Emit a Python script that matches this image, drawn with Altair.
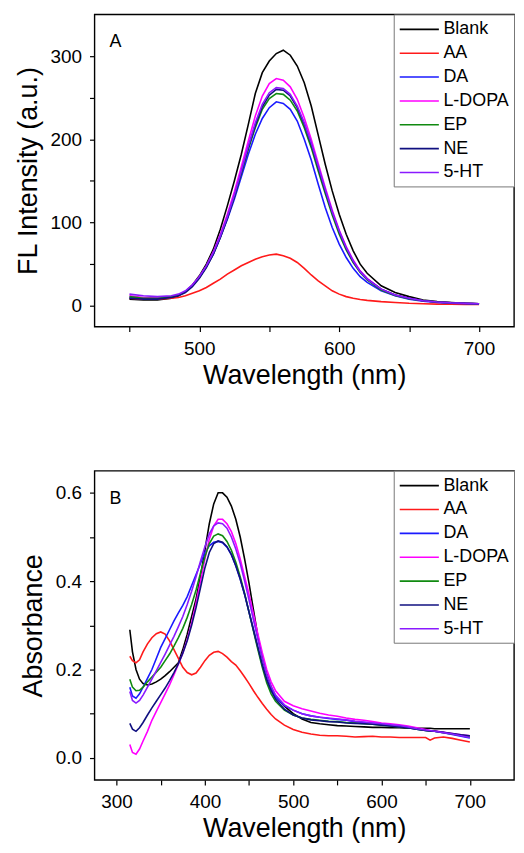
import altair as alt
import pandas as pd

SERIES = ["Blank", "AA", "DA", "L-DOPA", "EP", "NE", "5-HT"]
COLORS = ["#000000", "#ff1a1a", "#1a1aff", "#ff00ff", "#108a10", "#101080", "#8a1aff"]

# ---------------- Panel A : fluorescence ----------------
WL_A = [450, 460, 470, 480, 485, 490, 495, 500, 505, 510, 515, 520, 525, 530, 535,
        540, 545, 550, 555, 560, 565, 570, 575, 580, 585, 590, 595, 600, 605, 610,
        615, 620, 630, 640, 650, 660, 670, 680, 690, 700]
BLANK_A = [8, 7, 7, 9, 12, 17, 25, 36, 50, 68, 92, 120, 150, 182, 218,
           255, 280, 294, 303, 307, 301, 288, 268, 240, 205, 170, 138, 110, 86, 66,
           50, 39, 24, 16, 11, 7, 5, 4, 3, 2.5]
AA_A = [9, 8, 8, 9, 10, 12, 15, 18, 22, 27, 32, 38, 43, 48, 52,
        56, 59, 61, 62, 60, 57, 52, 45, 37, 30, 24, 18, 14, 11, 9,
        7.5, 6.5, 5, 4, 3, 2.5, 2, 1.8, 1.6, 1.5]
DA_A = [10, 9, 9, 11, 13, 17, 24, 34, 47, 62, 82, 104, 128, 155, 182,
        206, 225, 238, 245, 243, 236, 222, 200, 175, 146, 118, 94, 74, 58, 45,
        35, 28, 18, 12, 8, 5.5, 4, 3, 2.5, 2]
LDOPA_A = [12, 10, 10, 11, 13, 17, 25, 35, 48, 65, 86, 110, 137, 167, 198,
           228, 252, 267, 273, 271, 263, 248, 226, 200, 171, 142, 115, 91, 71, 55,
           42, 33, 20, 13, 9, 6, 4.5, 3.5, 3, 2.5]
EP_A = [11, 9, 9, 11, 13, 17, 24, 34, 47, 63, 83, 106, 131, 159, 188,
        214, 236, 249, 255, 254, 247, 234, 214, 190, 162, 135, 109, 86, 67, 52,
        40, 31, 19, 12.5, 8.5, 6, 4.5, 3.5, 3, 2.5]
NE_A = [9, 8, 8, 10, 12, 16, 23, 33, 46, 62, 82, 105, 131, 160, 190,
        217, 239, 253, 260, 259, 252, 238, 218, 194, 166, 138, 112, 89, 69, 53,
        41, 32, 20, 13, 9, 6, 4.5, 3.5, 3, 2.5]
HT_A = [14, 12, 11, 12, 14, 18, 25, 35, 48, 64, 84, 107, 133, 162, 192,
        220, 242, 256, 262, 261, 254, 240, 220, 196, 168, 140, 113, 90, 70, 54,
        41, 32, 20, 13, 9, 6, 4.5, 3.5, 3, 2.5]

# ---------------- Panel B : absorbance ----------------
WL_B = [315, 318, 322, 326, 330, 335, 340, 345, 350, 355, 360, 365, 370, 375, 380,
        385, 390, 395, 400, 405, 410, 415, 420, 425, 430, 435, 440, 445, 450, 455,
        460, 465, 470, 475, 480, 490, 500, 510, 520, 530, 540, 550, 560, 570, 580,
        590, 600, 610, 620, 630, 640, 650, 655, 660, 670, 680, 690, 700]
BLANK_B = [0.29, 0.24, 0.20, 0.178, 0.168, 0.165, 0.167, 0.172, 0.178, 0.186, 0.195, 0.205, 0.215, 0.245, 0.28,
           0.32, 0.36, 0.41, 0.47, 0.53, 0.575, 0.60, 0.60, 0.59, 0.57, 0.54, 0.50, 0.45, 0.395, 0.335,
           0.275, 0.225, 0.19, 0.16, 0.14, 0.117, 0.10, 0.088, 0.08, 0.077, 0.075, 0.073, 0.072, 0.071, 0.070,
           0.069, 0.069, 0.068, 0.068, 0.067, 0.067, 0.067, 0.067, 0.066, 0.066, 0.066, 0.066, 0.066]
AA_B = [0.23, 0.22, 0.215, 0.222, 0.24, 0.258, 0.272, 0.281, 0.285, 0.28, 0.265, 0.245, 0.225, 0.205, 0.193,
        0.188, 0.192, 0.205, 0.22, 0.232, 0.239, 0.241, 0.236, 0.228, 0.218, 0.21, 0.197, 0.183, 0.168, 0.152,
        0.137, 0.123, 0.11, 0.098, 0.088, 0.074, 0.064, 0.058, 0.054, 0.051, 0.05, 0.05, 0.049, 0.047, 0.048,
        0.049, 0.047, 0.047, 0.046, 0.046, 0.046, 0.046, 0.040, 0.045, 0.047, 0.044, 0.040, 0.036]
DA_B = [0.16, 0.14, 0.135, 0.145, 0.16, 0.18, 0.20, 0.225, 0.25, 0.27, 0.29, 0.31, 0.328, 0.345, 0.365,
        0.39, 0.415, 0.44, 0.465, 0.48, 0.488, 0.49, 0.487, 0.477, 0.46, 0.435, 0.405, 0.37, 0.33, 0.29,
        0.25, 0.21, 0.178, 0.155, 0.138, 0.118, 0.108, 0.10, 0.095, 0.092, 0.089, 0.087, 0.085, 0.082, 0.08,
        0.078, 0.076, 0.073, 0.071, 0.068, 0.065, 0.062, 0.061, 0.06, 0.057, 0.053, 0.049, 0.045]
LDOPA_B = [0.03, 0.012, 0.008, 0.02, 0.038, 0.06, 0.085, 0.105, 0.125, 0.145, 0.165, 0.188, 0.212, 0.237, 0.268,
           0.305, 0.35, 0.40, 0.45, 0.495, 0.525, 0.54, 0.54, 0.53, 0.512, 0.485, 0.45, 0.41, 0.37, 0.325,
           0.28, 0.238, 0.20, 0.172, 0.152, 0.128, 0.118, 0.111, 0.106, 0.101, 0.097, 0.094, 0.09, 0.087, 0.085,
           0.082, 0.079, 0.077, 0.075, 0.072, 0.068, 0.064, 0.062, 0.061, 0.058, 0.055, 0.052, 0.05]
EP_B = [0.178, 0.16, 0.152, 0.153, 0.16, 0.172, 0.183, 0.194, 0.205, 0.22, 0.235, 0.253, 0.272, 0.293, 0.318,
        0.347, 0.38, 0.418, 0.455, 0.485, 0.502, 0.507, 0.503, 0.49, 0.47, 0.443, 0.41, 0.372, 0.33, 0.287,
        0.245, 0.205, 0.17, 0.145, 0.128, 0.108, 0.097, 0.09, 0.087, 0.085, 0.083, 0.082, 0.08, 0.079, 0.077,
        0.076, 0.074, 0.072, 0.07, 0.068, 0.065, 0.062, 0.061, 0.06, 0.057, 0.054, 0.051, 0.048]
NE_B = [0.078, 0.065, 0.06, 0.068, 0.08, 0.097, 0.113, 0.128, 0.143, 0.158, 0.175, 0.193, 0.213, 0.237, 0.265,
        0.30, 0.34, 0.385, 0.43, 0.465, 0.485, 0.491, 0.488, 0.478, 0.46, 0.435, 0.405, 0.37, 0.33, 0.29,
        0.25, 0.21, 0.177, 0.152, 0.133, 0.11, 0.097, 0.09, 0.086, 0.084, 0.082, 0.081, 0.079, 0.078, 0.077,
        0.076, 0.074, 0.072, 0.07, 0.068, 0.065, 0.062, 0.061, 0.06, 0.058, 0.055, 0.052, 0.05]
HT_B = [0.15, 0.13, 0.124, 0.13, 0.142, 0.16, 0.178, 0.197, 0.216, 0.235, 0.255, 0.275, 0.297, 0.32, 0.347,
        0.377, 0.41, 0.445, 0.478, 0.507, 0.525, 0.532, 0.53, 0.52, 0.50, 0.473, 0.44, 0.40, 0.357, 0.312,
        0.268, 0.226, 0.19, 0.162, 0.142, 0.12, 0.108, 0.10, 0.095, 0.092, 0.09, 0.088, 0.086, 0.083, 0.081,
        0.079, 0.077, 0.075, 0.073, 0.07, 0.066, 0.063, 0.062, 0.06, 0.057, 0.054, 0.05, 0.046]

FONT = "Liberation Sans"


def long_frame(wl, cols):
    rows = []
    for name, vals in zip(SERIES, cols):
        for i, (w, v) in enumerate(zip(wl, vals)):
            rows.append({"wl": w, "val": v, "series": name, "idx": i})
    return pd.DataFrame(rows)


df_a = long_frame(WL_A, [BLANK_A, AA_A, DA_A, LDOPA_A, EP_A, NE_A, HT_A])
df_b = long_frame(WL_B, [BLANK_B, AA_B, DA_B, LDOPA_B, EP_B, NE_B, HT_B])

color = alt.Color(
    "series:N",
    scale=alt.Scale(domain=SERIES, range=COLORS),
    sort=SERIES,
    legend=alt.Legend(
        title=None, orient="top-right", offset=0, symbolType="M-1,0H3.4",
        symbolSize=320, symbolStrokeWidth=1.6, labelFontSize=18, labelFont=FONT,
        labelColor="black", padding=5, rowPadding=5, labelOffset=25,
        strokeColor="#777777", fillColor="white", labelLimit=200,
    ),
)

W = 422
H_A, H_B = 314, 311


def panel(df, xdom, ydom, xvals, yvals, xlabexpr, ylabexpr, ytitle, letter, h):
    base = alt.Chart(df)
    lines = base.mark_line(strokeWidth=1.6, clip=True).encode(
        x=alt.X("wl:Q", scale=alt.Scale(domain=xdom, nice=False, zero=False),
                axis=alt.Axis(values=xvals, labelExpr=xlabexpr, title="Wavelength (nm)")),
        y=alt.Y("val:Q", scale=alt.Scale(domain=ydom, nice=False, zero=False),
                axis=alt.Axis(values=yvals, labelExpr=ylabexpr, title=ytitle)),
        color=color,
        order="idx:Q",
    )
    lab = alt.Chart(pd.DataFrame({"t": [letter]})).mark_text(
        align="left", baseline="alphabetic", fontSize=18, font=FONT, color="black"
    ).encode(text="t:N", x=alt.value(15), y=alt.value(33))
    return alt.layer(lines, lab).properties(width=W, height=h)


pa = panel(df_a, [425, 725], [-25, 350], [450, 500, 550, 600, 650, 700],
           [0, 50, 100, 150, 200, 250, 300],
           "datum.value % 100 == 0 ? datum.label : ''",
           "datum.value % 100 == 0 ? datum.label : ''",
           "FL Intensity (a.u.)", "A", H_A)
pb = panel(df_b, [275, 750], [-0.05, 0.65], [300, 350, 400, 450, 500, 550, 600, 650, 700],
           [0.0, 0.1, 0.2, 0.3, 0.4, 0.5, 0.6],
           "datum.value % 100 == 0 ? datum.label : ''",
           "round(datum.value * 10) % 2 == 0 ? format(datum.value, '.1f') : ''",
           "Absorbance", "B", H_B)

chart = alt.vconcat(pa, pb, spacing=80).resolve_legend(color="independent").configure(
    padding={"left": 5, "top": 2, "right": 0, "bottom": 0},
    font=FONT,
).configure_view(
    stroke="black", strokeWidth=1.4
).configure_axis(
    domain=False, grid=False, ticks=True, tickColor="black", tickWidth=1.2, tickSize=5,
    labelFont=FONT, labelFontSize=19, labelColor="black", labelPadding=8,
    titleFont=FONT, titleFontSize=27, titleFontWeight="normal", titleColor="black",
    labelFlush=False, labelOverlap=False,
).configure_axisX(titlePadding=4).configure_axisY(titlePadding=8)

chart.save("out.html", embed_options={"renderer": "svg", "actions": False})
